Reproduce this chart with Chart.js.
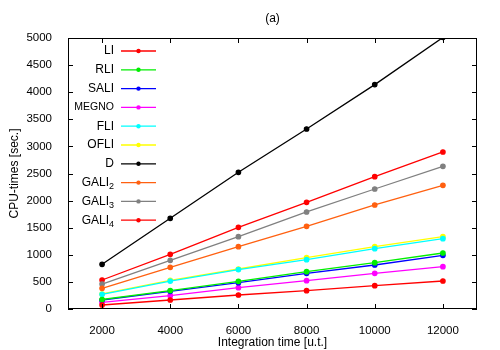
<!DOCTYPE html>
<html>
<head>
<meta charset="utf-8">
<script src="https://cdn.jsdelivr.net/npm/chart.js@4/dist/chart.umd.min.js"></script>
<style>
  html, body { margin: 0; padding: 0; background: #fff; }
  #wrap { width: 500px; height: 350px; }
</style>
</head>
<body>
<div id="wrap"><canvas id="chart" width="500" height="350"></canvas></div>
<script>
// Integration times (x) and CPU-times per indicator (y)
const xValues = [2000, 4000, 6000, 8000, 10000, 12000];
const yTicks = [0, 500, 1000, 1500, 2000, 2500, 3000, 3500, 4000, 4500, 5000];

const li    = [74, 166, 258, 338, 430, 517];
const rli   = [175, 340, 511, 688, 854, 1033];
const sali  = [166, 326, 485, 659, 812, 991];
const megno = [124, 245, 393, 522, 659, 780];
const fli   = [270, 515, 728, 910, 1113, 1297];
const ofli  = [277, 530, 738, 947, 1150, 1334];
const dInd  = [825, 1673, 2522, 3321, 4140, 5010];
const gali2 = [382, 769, 1150, 1526, 1919, 2282];
const gali3 = [461, 898, 1334, 1790, 2214, 2633];
const gali4 = [535, 1009, 1507, 1968, 2441, 2897];

const series = [
  { label: 'LI', data: li, color: '#ff0000' },
  { label: 'RLI', data: rli, color: '#00ee00' },
  { label: 'SALI', data: sali, color: '#0000ff' },
  { label: 'MEGNO', data: megno, color: '#ff00ff' },
  { label: 'FLI', data: fli, color: '#00ffff' },
  { label: 'OFLI', data: ofli, color: '#ffff00' },
  { label: 'D', data: dInd, color: '#000000' },
  { label: 'GALI2', data: gali2, color: '#ff6010' },
  { label: 'GALI3', data: gali3, color: '#808080' },
  { label: 'GALI4', data: gali4, color: '#ff0000' }
];

const FONT = "'Liberation Sans', Arial, Helvetica, sans-serif";

// gnuplot-like frame with inward ticks on all sides
const frame = {
  id: 'frame',
  afterDatasetsDraw(chart) {
    const { ctx, chartArea: a, scales } = chart;
    ctx.save();
    ctx.strokeStyle = '#000';
    ctx.lineWidth = 1;
    ctx.strokeRect(a.left + 0.5, a.top + 0.5, a.right - a.left - 1, a.bottom - a.top - 1);
    const t = 5;
    ctx.beginPath();
    scales.x.ticks.forEach(tk => {
      const x = Math.round(scales.x.getPixelForValue(tk.value)) + 0.5;
      ctx.moveTo(x, a.bottom); ctx.lineTo(x, a.bottom - t);
      ctx.moveTo(x, a.top); ctx.lineTo(x, a.top + t);
    });
    scales.y.ticks.forEach(tk => {
      const y = Math.round(scales.y.getPixelForValue(tk.value)) + 0.5;
      ctx.moveTo(a.left, y); ctx.lineTo(a.left + t, y);
      ctx.moveTo(a.right, y); ctx.lineTo(a.right - t, y);
    });
    ctx.stroke();
    ctx.restore();
  }
};

// key in the upper left, text right-aligned, trailing digit as subscript
const key = {
  id: 'key',
  afterDatasetsDraw(chart) {
    const { ctx } = chart;
    const textRight = 114, lineL = 121, lineR = 156, top = 51, step = 18.8;
    ctx.save();
    chart.data.datasets.forEach((ds, i) => {
      const y = top + i * step;
      const m = ds.label.match(/^(.*?)(\d)$/);
      ctx.fillStyle = '#000';
      ctx.textBaseline = 'middle';
      ctx.textAlign = 'right';
      if (m) {
        ctx.font = '9px ' + FONT;
        const sw = ctx.measureText(m[2]).width;
        ctx.fillText(m[2], textRight, y + 4);
        ctx.font = '12px ' + FONT;
        ctx.fillText(m[1], textRight - sw, y);
      } else {
        ctx.font = '12px ' + FONT;
        if (ctx.measureText(ds.label).width > 41) ctx.font = '10.5px ' + FONT;
        ctx.fillText(ds.label, textRight, y);
      }
      ctx.strokeStyle = ds.borderColor;
      ctx.lineWidth = 1.3;
      ctx.beginPath();
      ctx.moveTo(lineL, y); ctx.lineTo(lineR, y);
      ctx.stroke();
      ctx.fillStyle = ds.borderColor;
      ctx.beginPath();
      ctx.arc((lineL + lineR) / 2, y, 2.2, 0, Math.PI * 2);
      ctx.fill();
    });
    ctx.restore();
  }
};

const ctx = document.getElementById('chart').getContext('2d');
new Chart(ctx, {
  type: 'line',
  data: {
    datasets: series.map(s => ({
      label: s.label,
      data: s.data.map((v, i) => ({ x: xValues[i], y: v })),
      borderColor: s.color,
      backgroundColor: s.color,
      borderWidth: 1.3,
      pointRadius: 2.2,
      pointHoverRadius: 2.2,
      tension: 0
    }))
  },
  options: {
    responsive: false,
    animation: false,
    layout: { padding: { left: 0, right: 23, top: 0, bottom: 0 } },
    plugins: {
      legend: { display: false },
      tooltip: { enabled: false },
      title: {
        display: true,
        text: '(a)',
        fullSize: false,
        color: '#000',
        font: { family: FONT, size: 12, weight: 'normal' },
        padding: { top: 11, bottom: 12.6 }
      }
    },
    scales: {
      x: {
        type: 'linear',
        min: 1000,
        max: 13000,
        afterBuildTicks: s => { s.ticks = xValues.map(v => ({ value: v })); },
        afterFit: s => { s.height = 41; },
        grid: { display: false },
        border: { display: false },
        ticks: {
          color: '#000',
          padding: 7,
          maxRotation: 0,
          font: { family: FONT, size: 11.5 },
          callback: v => String(v)
        },
        title: {
          display: true,
          text: 'Integration time [u.t.]',
          color: '#000',
          font: { family: FONT, size: 12 },
          padding: { top: 7, bottom: 0 }
        }
      },
      y: {
        min: 0,
        max: 5000,
        afterBuildTicks: s => { s.ticks = yTicks.map(v => ({ value: v })); },
        afterFit: s => { s.width = 68; },
        grid: { display: false },
        border: { display: false },
        ticks: {
          color: '#000',
          padding: 8,
          font: { family: FONT, size: 11.5 },
          callback: v => String(v)
        },
        title: {
          display: true,
          text: 'CPU-times [sec.]',
          color: '#000',
          font: { family: FONT, size: 12 },
          padding: { top: 7, bottom: 0 }
        }
      }
    }
  },
  plugins: [frame, key]
});
</script>
</body>
</html>
